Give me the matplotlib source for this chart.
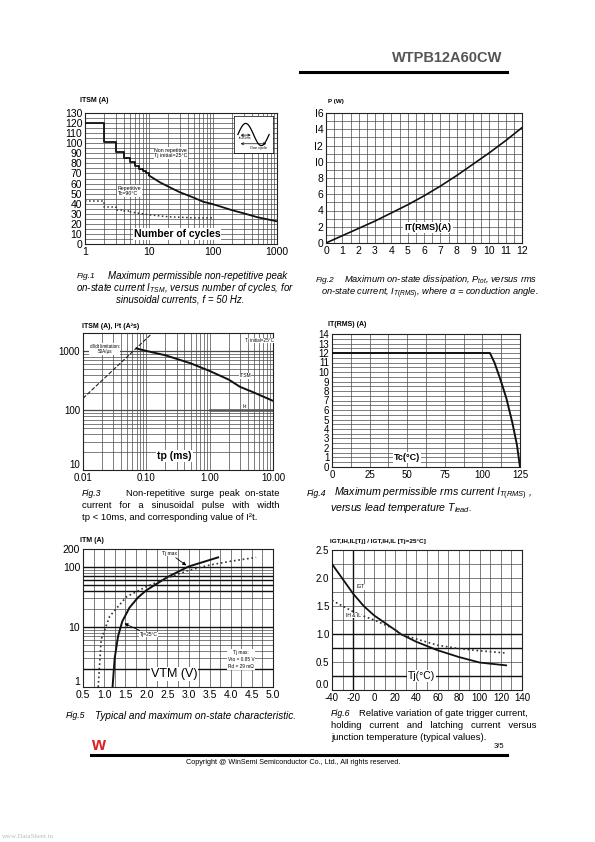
import numpy as np
import matplotlib
matplotlib.use('Agg')
from matplotlib import pyplot as plt

plt.rcParams['font.family'] = ['Liberation Sans', 'DejaVu Sans']
plt.rcParams['mathtext.fontset'] = 'custom'
plt.rcParams['mathtext.rm'] = 'Liberation Sans'
plt.rcParams['mathtext.it'] = 'Liberation Sans:italic'
plt.rcParams['axes.unicode_minus'] = False

W, H = 595, 842

# ---- Fig.1 data : ITSM vs number of cycles
f1_step_n = [1, 2, 3, 4, 5, 6, 7, 8, 9, 10]
f1_step_i = [120, 101, 91, 85, 81, 77, 74, 72, 70, 68]
f1_n = [10, 15, 20, 30, 50, 70, 100, 200, 300, 500, 1000]
f1_i = [68, 61, 57, 51.5, 46, 42, 39.5, 33.5, 30.5, 26.5, 22.5]
f1_rep_step_n = [1, 2, 3, 4, 5]
f1_rep_step_i = [43, 37, 34, 33, 32]
f1_rep_n = [5, 7, 10, 20, 50, 100]
f1_rep_i = [32, 30.5, 29, 27, 26, 26]

# ---- Fig.2 data : P vs IT(RMS)
f2_it = [0, 1, 2, 3, 4, 5, 6, 7, 8, 9, 10, 11, 12]
f2_p = [0, 0.9, 1.8, 2.7, 3.7, 4.7, 5.8, 7.0, 8.3, 9.7, 11.1, 12.6, 14.2]

# ---- Fig.3 data : ITSM / I2t vs tp
f3_didt_tp = [0.01, 0.12]
f3_didt_i = [160, 1920]
f3_tp = [0.07, 0.1, 0.2, 0.5, 1.0, 2.0, 3.0, 5.0, 10.0]
f3_itsm = [1100, 1000, 845, 620, 460, 330, 250, 200, 145]
f3_i2t_tp = [1.0, 10.0]
f3_i2t = [100, 100]

# ---- Fig.4 data : IT(RMS) vs Tc
f4_tc = [0, 105, 108, 112, 116, 120, 123, 125]
f4_it = [12, 12, 11, 9.2, 7.2, 4.6, 2.3, 0]

# ---- Fig.5 data : ITM vs VTM
f5_v25 = [1.2, 1.25, 1.33, 1.43, 1.6, 1.8, 2.0, 2.5, 3.0, 3.7]
f5_i25 = [1, 3, 7, 12.4, 21, 31, 41, 68, 102, 145]
f5_vmax = [0.86, 0.93, 1.13, 1.53, 2.0, 2.5, 3.0, 3.5, 4.0, 4.6]
f5_imax = [1, 6.2, 15, 32, 47, 66, 88, 108, 125, 145]

# ---- Fig.6 data : relative IGT, IH, IL vs Tj
f6_tj = [-40, -20, -10, 0, 20, 25, 40, 60, 80, 100, 125]
f6_igt = [2.25, 1.72, 1.5, 1.33, 1.07, 1.0, 0.86, 0.71, 0.59, 0.49, 0.44]
f6_ihil = [1.6, 1.4, 1.32, 1.25, 1.08, 1.0, 0.91, 0.8, 0.74, 0.7, 0.66]

GRID = '#4a4a4a'


def px_axes(x0, y0, x1, y1):
    return fig.add_axes([x0 / W, 1 - y1 / H, (x1 - x0) / W, (y1 - y0) / H])


def ftext(x, y, s, **kw):
    fig.text(x / W, 1 - y / H, s, **kw)


def style(ax, fs=7):
    ax.tick_params(length=0, pad=2, labelsize=fs)
    for sp in ax.spines.values():
        sp.set_linewidth(0.8)
        sp.set_color('#222222')


def hlines(ax, vals, lw=0.5, c=GRID):
    for v in vals:
        ax.axhline(v, color=c, lw=lw, zorder=1)


def vlines(ax, vals, lw=0.5, c=GRID):
    for v in vals:
        ax.axvline(v, color=c, lw=lw, zorder=1)


def log_vals(lo_dec, hi_dec):
    out = []
    for d in range(lo_dec, hi_dec):
        for k in range(1, 10):
            out.append(k * 10.0 ** d)
    return out


fig = plt.figure(figsize=(W / 100, H / 100), dpi=100)

# ---------------- header / footer
ftext(502, 58, 'WTPB12A60CW', fontsize=10.5, fontweight='bold', color='#555555',
      ha='right', va='center')
fig.add_artist(plt.Line2D([300 / W, 507 / W], [1 - 72 / H, 1 - 72 / H], color='black', lw=2.2))
ftext(98, 745, 'w', fontsize=13, fontweight='bold', color='#e02020', ha='center', va='center')
ftext(504, 746, '3/5', fontsize=5.5, ha='right', va='center')
fig.add_artist(plt.Line2D([91 / W, 507 / W], [1 - 755 / H, 1 - 755 / H], color='black', lw=2.2))
ftext(293, 762, 'Copyright @ WinSemi Semiconductor Co., Ltd., All rights reserved.',
      fontsize=5.2, ha='center', va='center')
ftext(2, 836, 'www.DataSheet.in', fontsize=5, color='#bbbbbb', ha='left', va='center',
      family='Liberation Serif')

# ---------------- Fig.1
ax1 = px_axes(85, 113, 277, 244)
ax1.set_xscale('log')
ax1.set_xlim(1, 1000)
ax1.set_ylim(0, 130)
vlines(ax1, log_vals(0, 3))
hlines(ax1, np.arange(5, 130, 5))
ax1.plot(f1_step_n, f1_step_i, color='#111111', lw=1.3, drawstyle='steps-post', zorder=3)
ax1.plot(f1_n, f1_i, color='#111111', lw=1.3, zorder=3)
ax1.plot(f1_rep_step_n, f1_rep_step_i, color='#333333', lw=1.1, ls=':', drawstyle='steps-post', zorder=3)
ax1.plot(f1_rep_n, f1_rep_i, color='#333333', lw=1.1, ls=':', zorder=3)
ax1.set_xticks([1, 10, 100, 1000])
ax1.set_xticklabels(['1', '10', '100', '1000'])
ax1.set_yticks(range(0, 131, 10))
ax1.minorticks_off()
style(ax1, 7.5)
ax1.text(0.36, 0.695, 'Non repetitive\nTj initial=25°C', transform=ax1.transAxes, fontsize=3.8,
         ha='left', va='center', bbox=dict(fc='white', ec='none', pad=0.3), zorder=4)
ax1.text(0.17, 0.405, 'Repetitive\nTc=90°C', transform=ax1.transAxes, fontsize=3.8,
         ha='left', va='center', bbox=dict(fc='white', ec='none', pad=0.3), zorder=4)
ax1.text(0.48, 0.075, 'Number of cycles', transform=ax1.transAxes, fontsize=7.5,
         fontweight='bold', ha='center', va='center',
         bbox=dict(fc='white', ec='none', pad=0.6), zorder=4)
ins = px_axes(234, 116, 273, 153)
ins.set_xlim(0, 1)
ins.set_ylim(-1.5, 1.5)
ins.set_xticks([])
ins.set_yticks([])
for sp in ins.spines.values():
    sp.set_linewidth(0.5)
tt = np.linspace(0.1, 0.9, 60)
ins.plot(tt, np.sin((tt - 0.1) / 0.8 * 2 * np.pi) * 0.9, color='black', lw=0.9)
ins.annotate('', xy=(0.1, -0.05), xytext=(0.5, -0.05),
             arrowprops=dict(arrowstyle='<->', lw=0.5, mutation_scale=4))
ins.annotate('', xy=(0.1, -0.75), xytext=(0.9, -0.75),
             arrowprops=dict(arrowstyle='<->', lw=0.5, mutation_scale=4))
ins.text(0.3, -0.3, 't=20ms', fontsize=2.8, ha='center', va='center')
ins.text(0.62, -1.1, 'One cycle', fontsize=2.8, ha='center', va='center')
ftext(80, 100, 'ITSM (A)', fontsize=5, fontweight='bold', ha='left', va='center')

# ---------------- Fig.2
ax2 = px_axes(326, 113, 522, 243)
ax2.set_xlim(0, 12)
ax2.set_ylim(0, 16)
vlines(ax2, np.arange(0.5, 12, 0.5))
hlines(ax2, np.arange(1, 16, 1))
ax2.plot(f2_it, f2_p, color='#111111', lw=1.2, zorder=3)
ax2.set_xticks(range(0, 13))
ax2.set_yticks(range(0, 17, 2))
ax2.set_yticklabels(['0', '2', '4', '6', '8', 'I0', 'I2', 'I4', 'I6'])
style(ax2, 7.5)
ax2.text(0.52, 0.12, 'IT(RMS)(A)', transform=ax2.transAxes, fontsize=6.5,
         fontweight='bold', ha='center', va='center',
         bbox=dict(fc='white', ec='none', pad=0.8), zorder=4)
ftext(328, 101, 'P (W)', fontsize=4.5, fontweight='bold', ha='left', va='center')

# ---------------- Fig.3
ax3 = px_axes(83, 333, 273, 470)
ax3.set_xscale('log')
ax3.set_yscale('log')
ax3.set_xlim(0.01, 10)
ax3.set_ylim(10, 2000)
vlines(ax3, log_vals(-2, 1))
hlines(ax3, log_vals(1, 4))
hlines(ax3, [100, 1000], lw=0.9)
ax3.plot(f3_didt_tp, f3_didt_i, color='#222222', lw=0.8, ls='--', zorder=3)
ax3.plot(f3_tp, f3_itsm, color='#111111', lw=1.4, zorder=3)
ax3.plot(f3_i2t_tp, f3_i2t, color='#555555', lw=1.8, zorder=3)
ax3.set_xticks([0.01, 0.1, 1, 10])
ax3.set_xticklabels(['0.01', '0.10', '1.00', '10.00'])
ax3.set_yticks([10, 100, 1000])
ax3.set_yticklabels(['10', '100', '1000'])
ax3.minorticks_off()
style(ax3, 7)
ax3.get_yticklabels()[0].set_va('bottom')
ax3.text(0.022, 1080, 'dI/dt limitation:\n50A/µs', fontsize=3.3, ha='center', va='center',
         bbox=dict(fc='white', ec='none', pad=0.3), zorder=4)
ax3.text(6.2, 1500, 'Tj initial=25°C', fontsize=3.3, ha='center', va='center',
         bbox=dict(fc='white', ec='none', pad=0.3), zorder=4)
ax3.text(3.6, 380, 'ITSM', fontsize=3.5, ha='center', va='center',
         bbox=dict(fc='white', ec='none', pad=0.3), zorder=4)
ax3.text(3.6, 118, 'I²t', fontsize=3.5, ha='center', va='center',
         bbox=dict(fc='white', ec='none', pad=0.3), zorder=4)
ax3.text(0.28, 17, 'tp (ms)', fontsize=7.5, fontweight='bold', ha='center', va='center',
         bbox=dict(fc='white', ec='none', pad=0.8), zorder=4)
ftext(82, 326, 'ITSM (A), I²t (A²s)', fontsize=5, fontweight='bold', ha='left', va='center')

# ---------------- Fig.4
ax4 = px_axes(332, 334, 520, 467)
ax4.set_xlim(0, 125)
ax4.set_ylim(0, 14)
vlines(ax4, np.arange(12.5, 125, 12.5))
hlines(ax4, np.arange(0.5, 14, 0.5))
ax4.plot(f4_tc, f4_it, color='#111111', lw=1.4, zorder=3)
ax4.set_xticks([0, 25, 50, 75, 100, 125])
ax4.set_yticks(range(0, 15))
style(ax4, 7)
ax4.text(50, 1.0, 'Tc(°C)', fontsize=6.5, fontweight='bold', ha='center', va='center',
         bbox=dict(fc='white', ec='none', pad=0.8), zorder=4)
ftext(328, 325, 'IT(RMS) (A)', fontsize=5, fontweight='bold', ha='left', va='center')

# ---------------- Fig.5
ax5 = px_axes(83, 549, 273, 687)
ax5.set_yscale('log')
ax5.set_xlim(0.5, 5.0)
ax5.set_ylim(1, 200)
vlines(ax5, np.arange(0.75, 5.0, 0.25))
hlines(ax5, log_vals(0, 3))
hlines(ax5, [2, 10, 40, 50, 60, 70, 100], lw=1.0, c='#111111')
ax5.plot(f5_v25, f5_i25, color='#111111', lw=1.4, zorder=3)
ax5.plot(f5_vmax, f5_imax, color='#333333', lw=1.2, ls=':', zorder=3)
ax5.set_xticks(np.arange(0.5, 5.01, 0.5))
ax5.set_xticklabels(['%.1f' % v for v in np.arange(0.5, 5.01, 0.5)])
ax5.set_yticks([1, 10, 100, 200])
ax5.set_yticklabels(['1', '10', '100', '200'])
ax5.minorticks_off()
style(ax5, 7.5)
ax5.get_yticklabels()[0].set_va('bottom')
ax5.annotate('Tj max', xy=(3.0, 100), xytext=(2.55, 170), fontsize=3.6, ha='center', va='center',
             bbox=dict(fc='white', ec='none', pad=0.3),
             arrowprops=dict(arrowstyle='-|>', lw=0.6, mutation_scale=5, color='black'), zorder=4)
ax5.annotate('Tj=25°C', xy=(1.42, 12), xytext=(2.05, 7.5), fontsize=3.6, ha='center', va='center',
             bbox=dict(fc='white', ec='none', pad=0.3),
             arrowprops=dict(arrowstyle='-|>', lw=0.6, mutation_scale=5, color='black'), zorder=4)
ax5.text(4.25, 2.9, 'Tj max:\nVto = 0.85 V\nRd = 29 mΩ', fontsize=3.4, ha='center', va='center',
         linespacing=1.5, bbox=dict(fc='white', ec='none', pad=0.6), zorder=4)
ax5.text(2.65, 1.65, 'VTM (V)', fontsize=9, ha='center', va='center',
         bbox=dict(fc='white', ec='none', pad=0.6), zorder=4)
ftext(80, 540, 'ITM (A)', fontsize=5, fontweight='bold', ha='left', va='center')

# ---------------- Fig.6
ax6 = px_axes(332, 550, 522, 690)
ax6.set_xlim(-40, 140)
ax6.set_ylim(0, 2.5)
vlines(ax6, np.arange(-30, 140, 10))
vlines(ax6, [-20], lw=1.0, c='#111111')
hlines(ax6, np.arange(0.25, 2.5, 0.25))
hlines(ax6, [0.25, 0.75, 1.0], lw=1.0, c='#111111')
ax6.plot(f6_tj, f6_igt, color='#111111', lw=1.3, zorder=3)
ax6.plot(f6_tj, f6_ihil, color='#333333', lw=1.2, ls=':', zorder=3)
ax6.set_xticks(range(-40, 141, 20))
ax6.set_yticks(np.arange(0, 2.51, 0.5))
ax6.set_yticklabels(['%.1f' % v for v in np.arange(0, 2.51, 0.5)])
style(ax6, 7)
ax6.get_yticklabels()[0].set_va('bottom')
ax6.text(-13, 1.84, 'IGT', fontsize=3.6, ha='center', va='center',
         bbox=dict(fc='white', ec='none', pad=0.3), zorder=4)
ax6.text(-20, 1.33, 'IH & IL', fontsize=3.6, ha='center', va='center',
         bbox=dict(fc='white', ec='none', pad=0.3), zorder=4)
ax6.text(45, 0.25, 'Tj(°C)', fontsize=7.5, ha='center', va='center',
         bbox=dict(fc='white', ec='none', pad=0.8), zorder=4)
ftext(330, 541, 'IGT,IH,IL[Tj] / IGT,IH,IL [Tj=25°C]', fontsize=4.6, fontweight='bold',
      ha='left', va='center')

# ---------------- captions
cap = dict(fontsize=7.0, style='italic', va='center')
ftext(77, 276, 'Fig.1', fontsize=6, style='italic', va='center')
ftext(108, 276, 'Maximum permissible non-repetitive peak', **cap)
ftext(76, 288, r'on-state current $I_{TSM}$, versus number of cycles, for', **cap)
ftext(180, 299, 'sinusoidal currents, f = 50 Hz.', ha='center', **cap)

cap2 = dict(fontsize=6.7, style='italic', va='center')
ftext(316, 280, 'Fig.2', fontsize=6, style='italic', va='center')
ftext(344, 280, r'Maximum on-state dissipation, $P_{tot}$, versus rms', **cap2)
ftext(321, 293, r'on-state current, $I_{T(RMS)}$, where α = conduction angle.', **cap2)

cap3 = dict(fontsize=6.8, va='center')
ftext(82, 494, 'Fig.3', fontsize=6.3, style='italic', va='center')
ftext(279, 494, 'Non-repetitive  surge  peak  on-state', ha='right', **cap3)
ftext(82, 506, 'current   for   a   sinusoidal   pulse   with   width', **cap3)
ftext(82, 517, 'tp < 10ms, and corresponding value of I²t.', **cap3)

cap4 = dict(fontsize=7.7, style='italic', va='center')
ftext(307, 494, 'Fig.4', fontsize=6.3, style='italic', va='center')
ftext(334, 494, r'Maximum permissible rms current $I_{T(RMS)}$ ,', **cap4)
ftext(330, 508, r'versus lead temperature $T_{lead}$.', **cap4)

ftext(66, 716, 'Fig.5', fontsize=6.3, style='italic', va='center')
ftext(95, 716, 'Typical and maximum on-state characteristic.', fontsize=7.2, style='italic',
      va='center')

ftext(331, 713, 'Fig.6', fontsize=6.3, style='italic', va='center')
ftext(528, 713, 'Relative variation of gate trigger current,', ha='right', **cap3)
ftext(331, 725, 'holding   current   and   latching   current   versus', **cap3)
ftext(331, 737, 'junction temperature (typical values).', **cap3)

fig.savefig('out.png', dpi=100)
